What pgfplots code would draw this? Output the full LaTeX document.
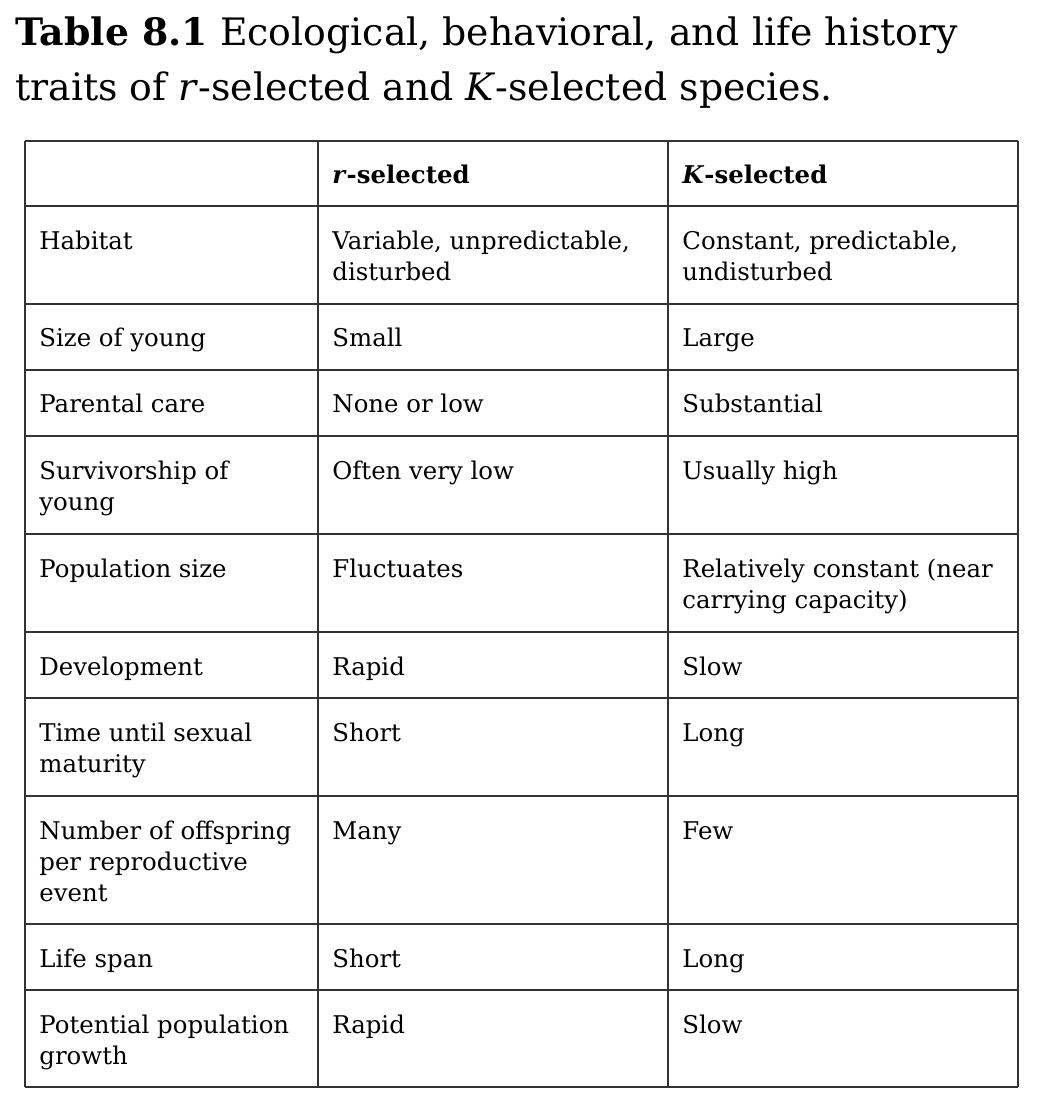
\documentclass[border=0pt]{standalone}
\usepackage{fontspec}
\setmainfont{DejaVu Serif}
\usepackage{pgfplots}
\pgfplotsset{compat=1.18}
\definecolor{rule}{RGB}{50,50,50}
\newcommand{\bodyf}{\fontsize{12.2}{15}\selectfont}
\newcommand{\titlef}{\fontsize{18.9}{22}\selectfont}
\tikzset{c/.style={anchor=base west, inner sep=0pt, font=\bodyf}, t/.style={anchor=base west, inner sep=0pt, font=\titlef}}
\begin{document}
\begin{tikzpicture}
\begin{axis}[
  scale only axis, width=521pt, height=553pt,
  xmin=0, xmax=1042, ymin=0, ymax=1106, y dir=reverse,
  hide axis, clip=false, unbounded coords=jump,
]
\path (axis cs:0,0) rectangle (axis cs:1042,1106);
% horizontal rules
\addplot[rule, line width=0.8pt] coordinates {
(25,141)(1018,141) (nan,nan)
(25,206)(1018,206) (nan,nan)
(25,304)(1018,304) (nan,nan)
(25,370)(1018,370) (nan,nan)
(25,436)(1018,436) (nan,nan)
(25,534)(1018,534) (nan,nan)
(25,632)(1018,632) (nan,nan)
(25,698)(1018,698) (nan,nan)
(25,796)(1018,796) (nan,nan)
(25,924)(1018,924) (nan,nan)
(25,990)(1018,990) (nan,nan)
(25,1087)(1018,1087)
};
% vertical rules
\addplot[rule, line width=0.8pt] coordinates {
(25,141)(25,1087) (nan,nan)
(318,141)(318,1087) (nan,nan)
(668,141)(668,1087) (nan,nan)
(1018,141)(1018,1087)
};
% title
\node[t] at (axis cs:15,46) {\textbf{Table 8.1} Ecological, behavioral, and life history};
\node[t] at (axis cs:15,101) {traits of \textit{r}-selected and \textit{K}-selected species.};
% header
\node[c] at (axis cs:332,184) {\textbf{\textit{r}-selected}};
\node[c] at (axis cs:682,184) {\textbf{\textit{K}-selected}};
% rows
\node[c] at (axis cs:39,250) {Habitat};
\node[c] at (axis cs:332,250) {Variable, unpredictable,};
\node[c] at (axis cs:332,281) {disturbed};
\node[c] at (axis cs:682,250) {Constant, predictable,};
\node[c] at (axis cs:682,281) {undisturbed};

\node[c] at (axis cs:39,347) {Size of young};
\node[c] at (axis cs:332,347) {Small};
\node[c] at (axis cs:682,347) {Large};

\node[c] at (axis cs:39,413) {Parental care};
\node[c] at (axis cs:332,413) {None or low};
\node[c] at (axis cs:682,413) {Substantial};

\node[c] at (axis cs:39,479) {Survivorship of};
\node[c] at (axis cs:39,510) {young};
\node[c] at (axis cs:332,479) {Often very low};
\node[c] at (axis cs:682,479) {Usually high};

\node[c] at (axis cs:39,577) {Population size};
\node[c] at (axis cs:332,577) {Fluctuates};
\node[c] at (axis cs:682,577) {Relatively constant (near};
\node[c] at (axis cs:682,608) {carrying capacity)};

\node[c] at (axis cs:39,675) {Development};
\node[c] at (axis cs:332,675) {Rapid};
\node[c] at (axis cs:682,675) {Slow};

\node[c] at (axis cs:39,741) {Time until sexual};
\node[c] at (axis cs:39,772) {maturity};
\node[c] at (axis cs:332,741) {Short};
\node[c] at (axis cs:682,741) {Long};

\node[c] at (axis cs:39,839) {Number of offspring};
\node[c] at (axis cs:39,870) {per reproductive};
\node[c] at (axis cs:39,901) {event};
\node[c] at (axis cs:332,839) {Many};
\node[c] at (axis cs:682,839) {Few};

\node[c] at (axis cs:39,967) {Life span};
\node[c] at (axis cs:332,967) {Short};
\node[c] at (axis cs:682,967) {Long};

\node[c] at (axis cs:39,1033) {Potential population};
\node[c] at (axis cs:39,1064) {growth};
\node[c] at (axis cs:332,1033) {Rapid};
\node[c] at (axis cs:682,1033) {Slow};
\end{axis}
\end{tikzpicture}
\end{document}
